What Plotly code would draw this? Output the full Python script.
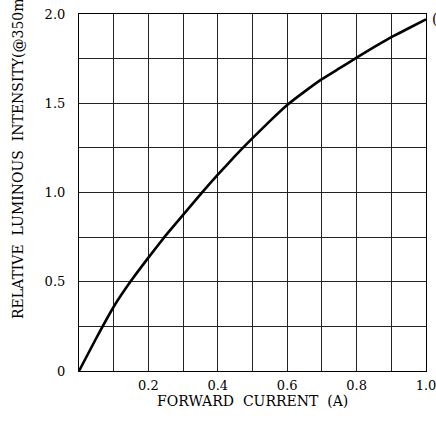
import plotly.graph_objects as go

current = [0, 0.05, 0.1, 0.15, 0.2, 0.25, 0.3, 0.35, 0.4, 0.45, 0.5, 0.55, 0.6, 0.65, 0.7, 0.75, 0.8, 0.85, 0.9, 0.95, 1.0]
intensity = [0, 0.185, 0.36, 0.505, 0.635, 0.76, 0.875, 0.99, 1.10, 1.205, 1.305, 1.40, 1.49, 1.565, 1.635, 1.695, 1.755, 1.815, 1.87, 1.92, 1.97]

x_grid = [0, 0.1, 0.2, 0.3, 0.4, 0.5, 0.6, 0.7, 0.8, 0.9, 1.0]
x_labels = ["", "", "0.2", "", "0.4", "", "0.6", "", "0.8", "", "1.0"]
y_grid = [0, 0.25, 0.5, 0.75, 1.0, 1.25, 1.5, 1.75, 2.0]
y_labels = ["0", "", "0.5", "", "1.0", "", "1.5", "", "2.0"]

FONT = "DejaVu Serif"

fig = go.Figure()
fig.add_trace(go.Scatter(x=current, y=intensity, mode="lines",
                         line=dict(color="black", width=2.6, shape="spline", smoothing=0.3),
                         showlegend=False, hoverinfo="skip"))

fig.update_layout(
    width=436, height=423,
    margin=dict(l=79, r=10, t=14, b=52, autoexpand=False),
    paper_bgcolor="white", plot_bgcolor="white",
    font=dict(family=FONT, size=13, color="black"),
    xaxis=dict(range=[0, 1.0], tickvals=x_grid, ticktext=x_labels,
               showgrid=True, gridcolor="#222222", gridwidth=1,
               showline=True, linecolor="black", linewidth=1.2, mirror=True,
               zeroline=False, ticks="", ticklabelstandoff=2, automargin=False,
               ticklabeloverflow="allow",
               tickfont=dict(family=FONT, size=13)),
    yaxis=dict(range=[0, 2.0], tickvals=y_grid, ticktext=y_labels,
               showgrid=True, gridcolor="#222222", gridwidth=1,
               showline=True, linecolor="black", linewidth=1.2, mirror=True,
               zeroline=False, ticks="", ticklabelstandoff=10, automargin=False,
               ticklabeloverflow="allow",
               tickfont=dict(family=FONT, size=13)),
    annotations=[
        dict(text="FORWARD  CURRENT  (A)", xref="paper", yref="paper",
             x=0.5, y=-0.0854, xanchor="center", yanchor="middle",
             showarrow=False, font=dict(family=FONT, size=14)),
        dict(text="RELATIVE  LUMINOUS  INTENSITY(@350mA)", xref="paper", yref="paper",
             x=-0.176, y=0.14, xanchor="center", yanchor="bottom", textangle=-90,
             showarrow=False, font=dict(family=FONT, size=14)),
        dict(text="(", xref="paper", yref="paper",
             x=1.0115, y=0.986, xanchor="left", yanchor="middle",
             showarrow=False, font=dict(family=FONT, size=14)),
    ],
)

fig.write_html("out.html",
               config={"displayModeBar": False},
               post_script="document.body.style.margin='0';document.body.style.overflow='hidden';")
